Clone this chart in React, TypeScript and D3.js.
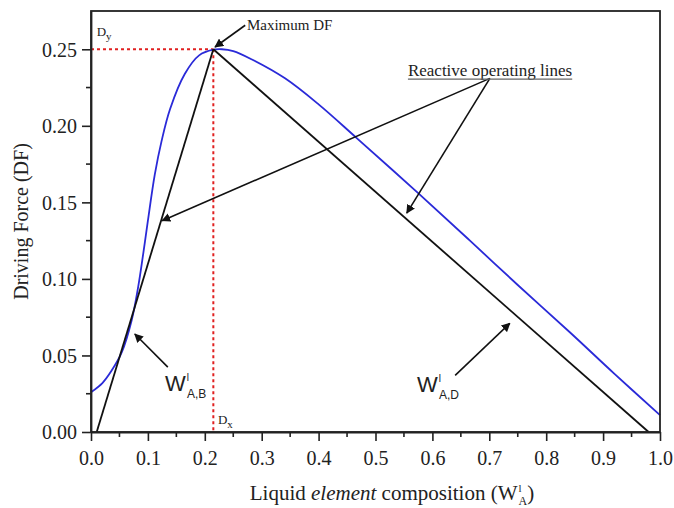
import React, { useEffect, useRef } from 'react';
import * as d3 from 'd3';

// blue driving-force curve
const dfX = [0, 0.02, 0.036, 0.054, 0.0715, 0.083, 0.092, 0.1, 0.112, 0.124, 0.139, 0.165, 0.19, 0.215, 0.23, 0.25, 0.282, 0.341, 0.4, 0.467, 0.575, 0.666, 0.75, 0.842, 0.92, 1.0];
const dfY = [0.026, 0.032, 0.04, 0.052, 0.073, 0.095, 0.117, 0.138, 0.168, 0.19, 0.211, 0.234, 0.246, 0.2497, 0.25, 0.2488, 0.2435, 0.231, 0.214, 0.192, 0.156, 0.125, 0.096, 0.065, 0.038, 0.011];

// reactive operating lines (black)
const opLineAB = [[0.01, 0], [0.215, 0.25]];
const opLineAD = [[0.215, 0.25], [0.98, 0]];
const maxPoint = [0.215, 0.25];

const xTicks = [0, 0.1, 0.2, 0.3, 0.4, 0.5, 0.6, 0.7, 0.8, 0.9, 1.0];
const yTicks = [0, 0.05, 0.1, 0.15, 0.2, 0.25];

// arrows: [tailX, tailY, tipX, tipY] in data units
const arrows = [
  [0.271, 0.2657, 0.218, 0.2515],
  [0.701, 0.231, 0.125, 0.138],
  [0.701, 0.231, 0.555, 0.143],
  [0.135, 0.0424, 0.077, 0.064],
  [0.64, 0.037, 0.736, 0.071],
];

const W = 674;
const H = 508;
const margin = { top: 11, right: 14, bottom: 76, left: 91 };

const App = () => {
  const ref = useRef<SVGSVGElement>(null);

  useEffect(() => {
    const svg = d3.select(ref.current);
    svg.selectAll('*').remove();

    const x = d3.scaleLinear().domain([0, 1]).range([margin.left, W - margin.right]);
    const y = d3.scaleLinear().domain([0, 0.275]).range([H - margin.bottom, margin.top]);
    const serif = '"Liberation Serif", "Times New Roman", serif';
    const sans = '"Liberation Sans", Arial, sans-serif';

    const defs = svg.append('defs');
    defs.append('marker')
      .attr('id', 'head')
      .attr('viewBox', '0 0 10 10')
      .attr('refX', 9)
      .attr('refY', 5)
      .attr('markerWidth', 9)
      .attr('markerHeight', 9)
      .attr('markerUnits', 'userSpaceOnUse')
      .attr('orient', 'auto')
      .append('path')
      .attr('d', 'M0,0 L10,5 L0,10 z')
      .attr('fill', '#111');

    // red dotted guides
    svg.append('line')
      .attr('x1', x(0)).attr('y1', y(maxPoint[1]))
      .attr('x2', x(maxPoint[0])).attr('y2', y(maxPoint[1]))
      .attr('stroke', '#e02020').attr('stroke-width', 2).attr('stroke-dasharray', '3,3');
    svg.append('line')
      .attr('x1', x(maxPoint[0])).attr('y1', y(maxPoint[1]))
      .attr('x2', x(maxPoint[0])).attr('y2', y(0))
      .attr('stroke', '#e02020').attr('stroke-width', 2).attr('stroke-dasharray', '3,3');

    // blue curve
    const line = d3.line<number>()
      .x((d, i) => x(dfX[i]))
      .y(d => y(d))
      .curve(d3.curveCatmullRom.alpha(0.5));
    svg.append('path')
      .attr('d', line(dfY))
      .attr('fill', 'none')
      .attr('stroke', '#2a2ad8')
      .attr('stroke-width', 1.8);

    // operating lines
    const seg = d3.line<number[]>().x(d => x(d[0])).y(d => y(d[1]));
    [opLineAB, opLineAD].forEach(l => {
      svg.append('path')
        .attr('d', seg(l))
        .attr('fill', 'none')
        .attr('stroke', '#111')
        .attr('stroke-width', 1.8);
    });

    // arrows
    svg.selectAll('.arrow')
      .data(arrows)
      .enter()
      .append('line')
      .attr('x1', d => x(d[0])).attr('y1', d => y(d[1]))
      .attr('x2', d => x(d[2])).attr('y2', d => y(d[3]))
      .attr('stroke', '#111')
      .attr('stroke-width', 1.6)
      .attr('marker-end', 'url(#head)');

    // frame
    svg.append('rect')
      .attr('x', x(0)).attr('y', y(0.275))
      .attr('width', x(1) - x(0)).attr('height', y(0) - y(0.275))
      .attr('fill', 'none').attr('stroke', '#222').attr('stroke-width', 1.8);

    // axes
    const xAxis = d3.axisBottom(x).tickValues(xTicks).tickFormat(d3.format('.1f')).tickSize(9).tickSizeOuter(0);
    const gx = svg.append('g').attr('transform', `translate(0,${y(0)})`).call(xAxis);
    gx.append('g').selectAll('line')
      .data(d3.range(0.05, 1, 0.1))
      .enter().append('line')
      .attr('x1', d => x(d)).attr('x2', d => x(d))
      .attr('y1', 0).attr('y2', 5)
      .attr('stroke', '#222').attr('stroke-width', 1.6);

    const yAxis = d3.axisLeft(y).tickValues(yTicks).tickFormat(d3.format('.2f')).tickSize(9).tickSizeOuter(0);
    const gy = svg.append('g').attr('transform', `translate(${x(0)},0)`).call(yAxis);
    gy.append('g').selectAll('line')
      .data(d3.range(0.025, 0.275, 0.05))
      .enter().append('line')
      .attr('x1', 0).attr('x2', -5)
      .attr('y1', d => y(d)).attr('y2', d => y(d))
      .attr('stroke', '#222').attr('stroke-width', 1.6);

    [gx, gy].forEach(g => {
      g.select('.domain').attr('stroke', '#222').attr('stroke-width', 1.8);
      g.selectAll('.tick line').attr('stroke', '#222').attr('stroke-width', 1.6);
      g.selectAll('.tick text')
        .attr('font-family', serif)
        .attr('font-size', 20)
        .attr('fill', '#222');
    });
    gx.selectAll('.tick text').attr('dy', '1.05em');
    gy.selectAll('.tick text').attr('dy', '0.34em').attr('dx', '-0.1em');

    // axis titles
    svg.append('text')
      .attr('transform', `translate(28,${(y(0) + y(0.275)) / 2}) rotate(-90)`)
      .attr('text-anchor', 'middle')
      .attr('font-family', serif)
      .attr('font-size', 20)
      .attr('fill', '#222')
      .text('Driving Force (DF)');

    const xt = svg.append('text')
      .attr('x', 392)
      .attr('y', 500)
      .attr('text-anchor', 'middle')
      .attr('font-family', serif)
      .attr('font-size', 21)
      .attr('fill', '#222');
    xt.append('tspan').text('Liquid ');
    xt.append('tspan').attr('font-style', 'italic').text('element');
    xt.append('tspan').text(' composition (W');
    xt.append('tspan').attr('font-size', 11).attr('dy', -8).attr('dx', 1).text('l');
    xt.append('tspan').attr('font-size', 12).attr('dy', 13).attr('dx', -3).text('A');
    xt.append('tspan').attr('dy', -5).text(')');

    // small annotation labels
    const dy = svg.append('text')
      .attr('x', x(0.01)).attr('y', y(0.2585))
      .attr('font-family', serif).attr('font-size', 13).attr('fill', '#222');
    dy.append('tspan').text('D');
    dy.append('tspan').attr('font-size', 11).attr('dy', 4).text('y');

    const dx = svg.append('text')
      .attr('x', x(0.223)).attr('y', y(0.0055))
      .attr('font-family', serif).attr('font-size', 13).attr('fill', '#222');
    dx.append('tspan').text('D');
    dx.append('tspan').attr('font-size', 11).attr('dy', 4).text('x');

    svg.append('text')
      .attr('x', x(0.274)).attr('y', y(0.2625))
      .attr('font-family', serif).attr('font-size', 15).attr('fill', '#222')
      .text('Maximum DF');

    const rolY = y(0.2325);
    const rol = svg.append('text')
      .attr('x', x(0.557)).attr('y', rolY)
      .attr('font-family', serif).attr('font-size', 17).attr('fill', '#222')
      .text('Reactive operating lines');
    const bb = (rol.node() as SVGTextElement).getBBox();
    svg.append('line')
      .attr('x1', bb.x).attr('x2', bb.x + bb.width)
      .attr('y1', rolY + 3).attr('y2', rolY + 3)
      .attr('stroke', '#666').attr('stroke-width', 1.2);

    const wLabel = (xv: number, yv: number, sub: string) => {
      const t = svg.append('text')
        .attr('x', x(xv)).attr('y', y(yv))
        .attr('font-family', sans).attr('font-size', 22).attr('fill', '#222');
      t.append('tspan').text('W');
      t.append('tspan').attr('font-size', 10).attr('dy', -10).attr('dx', 1).text('l');
      t.append('tspan').attr('font-size', 12).attr('dy', 17).attr('dx', -2).text(sub);
    };
    wLabel(0.13, 0.027, 'A,B');
    wLabel(0.573, 0.026, 'A,D');
  }, []);

  return (
    <svg
      ref={ref}
      width={W}
      height={H}
      style={{ position: 'absolute', left: 0, top: 0, background: '#fff' }}
    />
  );
};

export default App;
